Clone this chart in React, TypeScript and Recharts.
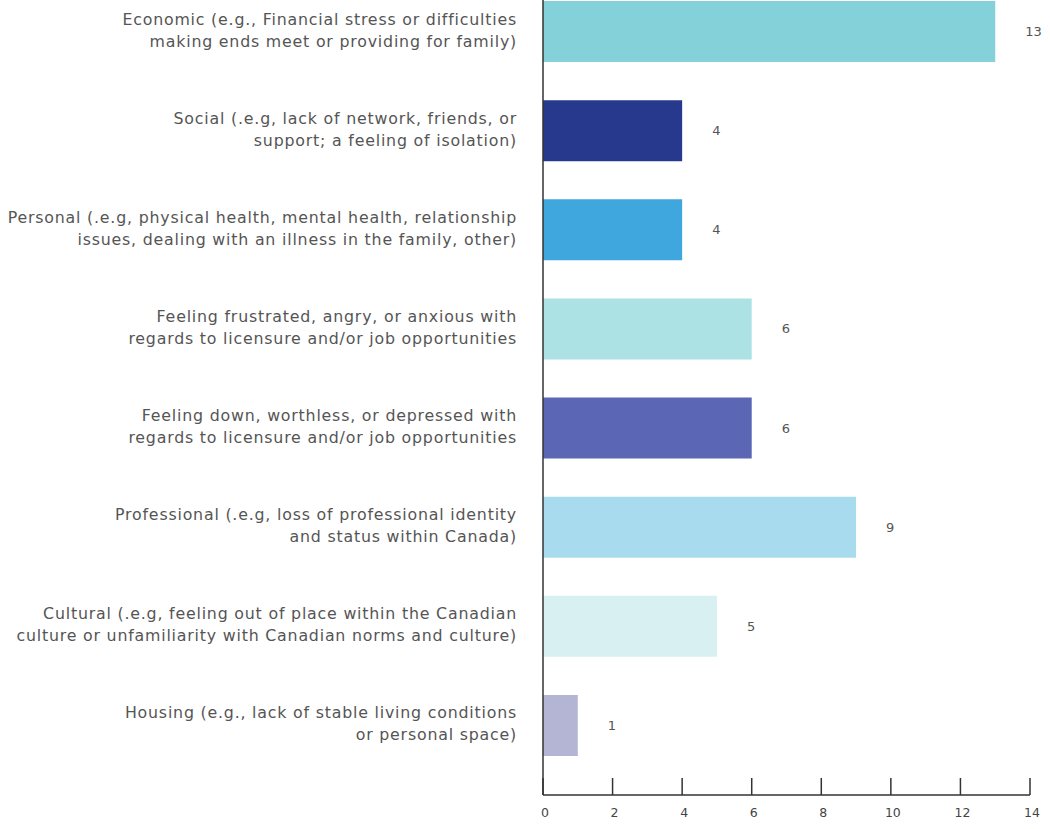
import { BarChart, Bar, XAxis, YAxis, Cell, LabelList } from 'recharts';

const categories = [
  'Economic (e.g., Financial stress or difficulties\nmaking ends meet or providing for family)',
  'Social (.e.g, lack of network, friends, or\nsupport; a feeling of isolation)',
  'Personal (.e.g, physical health, mental health, relationship\nissues, dealing with an illness in the family, other)',
  'Feeling frustrated, angry, or anxious with\nregards to licensure and/or job opportunities',
  'Feeling down, worthless, or depressed with\nregards to licensure and/or job opportunities',
  'Professional (.e.g, loss of professional identity\nand status within Canada)',
  'Cultural (.e.g, feeling out of place within the Canadian\nculture or unfamiliarity with Canadian norms and culture)',
  'Housing (e.g., lack of stable living conditions\nor personal space)',
];

const counts = [13, 4, 4, 6, 6, 9, 5, 1];

const barColors = ['#84d1d9', '#27398c', '#3fa7dd', '#ade2e5', '#5b67b4', '#a9dbee', '#d9f0f2', '#b4b5d4'];

const xTicks = [0, 2, 4, 6, 8, 10, 12, 14];

const data = categories.map((name, i) => ({ name, count: counts[i] }));

const FONT = '"DejaVu Sans", sans-serif';

// two-line category labels, right aligned
const CategoryTick = (props: any) => {
  const { y, payload } = props;
  const lines = String(payload.value).split('\n');
  return (
    <text x={517} y={y} textAnchor="end" fill="#555" fontSize={15.8} letterSpacing={0.8} fontFamily={FONT}>
      {lines.map((line, i) => (
        <tspan key={i} x={517} dy={i === 0 ? -7 : 22}>
          {line}
        </tspan>
      ))}
    </text>
  );
};

// ticks point up into the plot
const ValueTick = (props: any) => {
  const { x, y, payload } = props;
  return (
    <g>
      <line x1={x} y1={y - 17} x2={x} y2={y} stroke="#333" strokeWidth={1.5} />
      <text x={x + 2} y={y + 22} textAnchor="middle" fill="#444" fontSize={12.5} fontFamily={FONT}>
        {payload.value}
      </text>
    </g>
  );
};

export default function App() {
  return (
    <div style={{ position: 'absolute', top: 0, left: 0, background: '#fff' }}>
      <BarChart
        width={1050}
        height={829}
        data={data}
        layout="vertical"
        margin={{ top: -18, right: 20, left: 0, bottom: 0 }}
      >
        <XAxis
          type="number"
          domain={[0, 14]}
          ticks={xTicks}
          interval={0}
          axisLine={{ stroke: '#333', strokeWidth: 1.5 }}
          tickLine={false}
          tickSize={0}
          tickMargin={0}
          tick={<ValueTick />}
          height={34}
        />
        <YAxis
          type="category"
          dataKey="name"
          width={543}
          interval={0}
          padding={{ top: 0, bottom: 20 }}
          axisLine={{ stroke: '#333', strokeWidth: 1.5 }}
          tickLine={false}
          tick={<CategoryTick />}
        />
        <Bar dataKey="count" barSize={61} isAnimationActive={false}>
          {data.map((d, i) => (
            <Cell key={d.name} fill={barColors[i]} />
          ))}
          <LabelList dataKey="count" position="right" offset={30} fill="#555" fontSize={13} fontFamily={FONT} />
        </Bar>
      </BarChart>
    </div>
  );
}
